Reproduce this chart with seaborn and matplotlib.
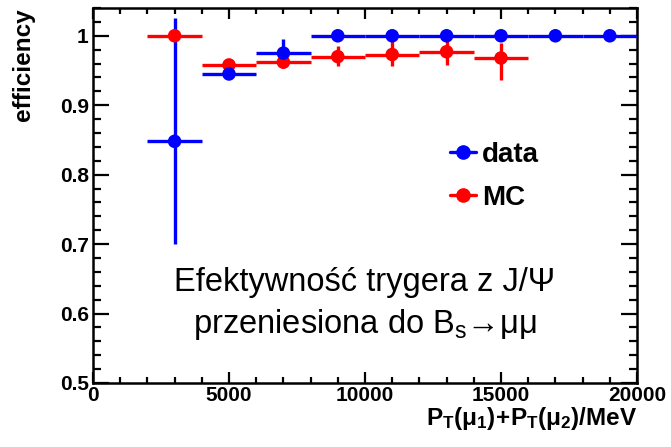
import numpy as np
import pandas as pd
import matplotlib
matplotlib.use("Agg")
import matplotlib.pyplot as plt
from matplotlib.lines import Line2D
from matplotlib.ticker import MultipleLocator
import seaborn as sns

# Trigger efficiency vs summed muon transverse momentum (bin centres in MeV)
data_x = [3000, 5000, 7000, 9000, 11000, 13000, 15000, 17000, 19000]
data_y = [0.848, 0.945, 0.975, 1.0, 1.0, 1.0, 1.0, 1.0, 1.0]
data_err_lo = [0.148, 0.005, 0.018, 0, 0, 0, 0, 0, 0]
data_err_hi = [0.177, 0.005, 0.020, 0, 0, 0, 0, 0, 0]

mc_x = [3000, 5000, 7000, 9000, 11000, 13000, 15000]
mc_y = [1.0, 0.958, 0.962, 0.970, 0.973, 0.977, 0.968]
mc_err_lo = [0, 0.007, 0.008, 0.013, 0.017, 0.019, 0.031]
mc_err_hi = [0, 0.007, 0.006, 0.015, 0.020, 0.020, 0.021]

bin_half_width = 1000

sns.set_theme(style="ticks")
plt.rcParams["font.family"] = ["Liberation Sans", "DejaVu Sans"]
plt.rcParams["mathtext.fontset"] = "custom"
plt.rcParams["mathtext.rm"] = "Liberation Sans"
plt.rcParams["mathtext.bf"] = "Liberation Sans:bold"
plt.rcParams["mathtext.it"] = "Liberation Sans:italic"
for key in ["text.color", "axes.labelcolor", "xtick.color", "ytick.color",
            "xtick.labelcolor", "ytick.labelcolor", "axes.edgecolor"]:
    plt.rcParams[key] = "black"

BLUE = "#0000ff"
RED = "#ff0000"

fig = plt.figure(figsize=(6.71, 4.47), dpi=100)
ax = fig.add_axes([93 / 671, 1 - 383 / 447, (637 - 93) / 671, (383 - 8) / 447])

df = pd.concat([
    pd.DataFrame({"pt": mc_x, "eff": mc_y, "sample": "MC"}),
    pd.DataFrame({"pt": data_x, "eff": data_y, "sample": "data"}),
])

for xs, ys, lo, hi, col, z in [
    (mc_x, mc_y, mc_err_lo, mc_err_hi, RED, 2),
    (data_x, data_y, data_err_lo, data_err_hi, BLUE, 3),
]:
    ax.errorbar(xs, ys, xerr=bin_half_width, yerr=[lo, hi], fmt="none",
                ecolor=col, elinewidth=2.4, capsize=0, zorder=z)

sns.scatterplot(data=df, x="pt", y="eff", hue="sample",
                palette={"MC": RED, "data": BLUE}, s=95, edgecolor="none",
                legend=False, ax=ax, zorder=4)

ax.set_xlim(0, 20000)
ax.set_ylim(0.5, 1.04)
ax.xaxis.set_major_locator(MultipleLocator(5000))
ax.xaxis.set_minor_locator(MultipleLocator(1000))
ax.yaxis.set_major_locator(MultipleLocator(0.1))
ax.yaxis.set_minor_locator(MultipleLocator(0.02))
ax.set_xticks([0, 5000, 10000, 15000, 20000])
ax.set_xticklabels(["0", "5000", "10000", "15000", "20000"])
ax.set_yticks([0.5, 0.6, 0.7, 0.8, 0.9, 1.0])
ax.set_yticklabels(["0.5", "0.6", "0.7", "0.8", "0.9", "1"])

ax.tick_params(axis="both", which="both", direction="in", top=True, right=True,
               width=1.6, colors="black")
ax.tick_params(axis="y", which="major", length=11.5, pad=3)
ax.tick_params(axis="y", which="minor", length=5.8)
ax.tick_params(axis="x", which="major", length=8, pad=2)
ax.tick_params(axis="x", which="minor", length=4)
for lab in ax.get_xticklabels() + ax.get_yticklabels():
    lab.set_fontsize(15)
    lab.set_fontweight("bold")
for sp in ax.spines.values():
    sp.set_linewidth(1.8)
    sp.set_color("black")

ax.set_ylabel("efficiency", fontsize=17.5, fontweight="bold", loc="top",
              labelpad=18, color="black")
ax.set_xlabel(r"$\mathbf{P_{T}(μ_{1})\!+\!P_{T}(μ_{2})/MeV}$", fontsize=17.5,
              loc="right", labelpad=0, color="black")

ax.text(0.5, 0.245, "Efektywność trygera z J/Ψ", transform=ax.transAxes,
        ha="center", va="baseline", fontsize=23.5, color="black")
ax.text(0.5, 0.133, r"przeniesiona do B$_\mathregular{s}$→μμ", transform=ax.transAxes,
        ha="center", va="baseline", fontsize=23.5, color="black")

handles = [
    Line2D([], [], color=BLUE, lw=2.4, marker="o", ms=9.5),
    Line2D([], [], color=RED, lw=2.4, marker="o", ms=9.5),
]
leg = ax.legend(handles, ["data", "MC"], loc="center left",
                bbox_to_anchor=(450 / 671, 1 - 176.5 / 447),
                bbox_transform=fig.transFigure, borderpad=0, borderaxespad=0,
                frameon=False, handlelength=0.95, handletextpad=0.2,
                labelspacing=0.6, prop={"weight": "bold", "size": 20})
for t in leg.get_texts():
    t.set_color("black")

fig.savefig("out.png", dpi=100)
